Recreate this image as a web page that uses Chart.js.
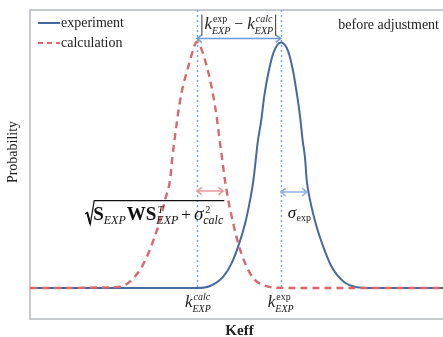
<!DOCTYPE html>
<html><head><meta charset="utf-8">
<script src="https://cdn.jsdelivr.net/npm/chart.js@4.4.1/dist/chart.umd.min.js"></script>
<style>html,body{margin:0;padding:0;background:#fff;overflow:hidden}</style>
</head><body>
<canvas id="c" width="443" height="337"></canvas>
<script>
// ---- data (Keff in arbitrary units 0..100, probability normalised) ----
const seriesNames = ['experiment', 'calculation'];
const expX  = [0, 29.1, 40.4, 43.6, 46.8, 48.8, 50.4, 52.1, 53.3, 54.1, 54.7, 55.1, 56.0, 56.7, 57.7, 58.9, 60.7, 62.5, 63.8, 64.6, 65.4, 66.0, 66.6, 67.0, 67.8, 69.4, 71.0, 73.0, 75.9, 79.1, 82.3, 100];
const expY  = [0, 0, 0, 0.008, 0.046, 0.100, 0.168, 0.263, 0.358, 0.439, 0.527, 0.588, 0.683, 0.778, 0.873, 0.954, 0.998, 0.963, 0.873, 0.791, 0.696, 0.602, 0.527, 0.439, 0.358, 0.249, 0.168, 0.087, 0.026, 0.003, 0, 0];
const calcX = [0, 9.7, 15.7, 21.8, 24.2, 26.6, 28.3, 29.9, 31.5, 32.7, 33.9, 34.5, 35.7, 36.3, 37.1, 38.1, 38.9, 40.4, 41.6, 42.6, 43.6, 44.4, 45.2, 45.8, 46.4, 47.2, 48.0, 49.2, 50.4, 52.1, 54.1, 56.5, 59.7, 65.4, 100];
const calcY = [0, 0, 0.002, 0.005, 0.026, 0.073, 0.127, 0.195, 0.276, 0.358, 0.439, 0.534, 0.691, 0.757, 0.825, 0.886, 0.935, 1.0, 0.967, 0.913, 0.846, 0.778, 0.696, 0.615, 0.541, 0.439, 0.358, 0.263, 0.182, 0.100, 0.039, 0.012, 0.001, 0, 0];
const calcMean = 40.4, expMean = 60.7;
const calcSigma = 6.4, expSigma = 6.4;
const xLabel = 'Keff', yLabel = 'Probability', noteText = 'before adjustment';

const SERIF = '"Liberation Serif","Times New Roman",serif';
const F = (size, style) => (style ? style + ' ' : '') + size + 'px ' + SERIF;
const BLUE = '#46699e', RED = '#d8686c', LBLUE = '#7aa6dc', LRED = '#e69a9b';

function runsWidth(ctx, runs) {
  let w = 0;
  for (const r of runs) {
    if (r.stack) {
      ctx.font = r.supFont; const a = ctx.measureText(r.sup).width + (r.supDx || 0);
      ctx.font = r.subFont; const b = ctx.measureText(r.sub).width;
      w += Math.max(a, b) + (r.gap || 0);
    } else { ctx.font = r.font; w += ctx.measureText(r.t).width + (r.gap || 0); }
  }
  return w;
}
function drawRuns(ctx, x, y, runs) {
  ctx.textAlign = 'left'; ctx.textBaseline = 'alphabetic';
  for (const r of runs) {
    if (r.stack) {
      ctx.font = r.supFont; const a = ctx.measureText(r.sup).width + (r.supDx || 0);
      ctx.fillText(r.sup, x + (r.supDx || 0), y + r.supDy);
      ctx.font = r.subFont; const b = ctx.measureText(r.sub).width;
      ctx.fillText(r.sub, x, y + r.subDy);
      x += Math.max(a, b) + (r.gap || 0);
    } else { ctx.font = r.font; ctx.fillText(r.t, x, y + (r.dy || 0)); x += ctx.measureText(r.t).width + (r.gap || 0); }
  }
  return x;
}
function dblArrow(ctx, x1, x2, y, color, lw, h) {
  ctx.save(); ctx.setLineDash([]); ctx.strokeStyle = color; ctx.lineWidth = lw;
  ctx.beginPath(); ctx.moveTo(x1, y); ctx.lineTo(x2, y);
  ctx.moveTo(x1 + h, y - h * 0.75); ctx.lineTo(x1, y); ctx.lineTo(x1 + h, y + h * 0.75);
  ctx.moveTo(x2 - h, y - h * 0.75); ctx.lineTo(x2, y); ctx.lineTo(x2 - h, y + h * 0.75);
  ctx.stroke(); ctx.restore();
}
const kLabel = (sup, supItalic) => [
  { t: 'k', font: F(17, 'italic'), gap: 0 },
  { stack: true, sup: sup, supFont: F(10, supItalic ? 'italic' : ''), sub: 'EXP', subFont: F(10, 'italic'), supDy: -7, subDy: 5, supDx: 1 }
];

const deco = {
  id: 'deco',
  beforeDraw(chart) {
    const ctx = chart.ctx; ctx.save(); ctx.fillStyle = '#fff'; ctx.fillRect(0, 0, chart.width, chart.height); ctx.restore();
  },
  beforeDatasetsDraw(chart) {
    const { ctx, chartArea: a, scales: { x, y } } = chart;
    ctx.save();
    // frame
    ctx.strokeStyle = '#b5b9bf'; ctx.lineWidth = 1.5;
    ctx.beginPath(); ctx.moveTo(a.right + 5, a.top); ctx.lineTo(a.left, a.top); ctx.lineTo(a.left, a.bottom); ctx.lineTo(a.right + 5, a.bottom); ctx.stroke();
    // dotted mean lines
    ctx.strokeStyle = LBLUE; ctx.lineWidth = 1.5; ctx.setLineDash([2, 3]);
    for (const m of [calcMean, expMean]) {
      const px = Math.round(x.getPixelForValue(m)) + 0.5;
      ctx.beginPath(); ctx.moveTo(px, a.top); ctx.lineTo(px, y.getPixelForValue(0)); ctx.stroke();
    }
    ctx.restore();
  },
  afterDatasetsDraw(chart) {
    const { ctx, chartArea: a, scales: { x, y } } = chart;
    const cP = x.getPixelForValue(calcMean), eP = x.getPixelForValue(expMean);
    ctx.save();
    ctx.fillStyle = '#222';
    // legend
    const lx = a.left + 8, ly1 = a.top + 13, ly2 = a.top + 33;
    ctx.strokeStyle = BLUE; ctx.lineWidth = 2; ctx.setLineDash([]);
    ctx.beginPath(); ctx.moveTo(lx, ly1); ctx.lineTo(lx + 22, ly1); ctx.stroke();
    ctx.strokeStyle = RED; ctx.lineWidth = 2; ctx.setLineDash([5, 4]);
    ctx.beginPath(); ctx.moveTo(lx, ly2); ctx.lineTo(lx + 22, ly2); ctx.stroke();
    ctx.setLineDash([]);
    ctx.font = F(14); ctx.textBaseline = 'middle'; ctx.textAlign = 'left';
    ctx.fillText(seriesNames[0], lx + 23, ly1);
    ctx.fillText(seriesNames[1], lx + 23, ly2);
    // note
    ctx.textAlign = 'right'; ctx.fillText(noteText, a.right - 4, a.top + 15);

    // top arrow + |k - k| label
    const topY = y.getPixelForValue(1.014);
    dblArrow(ctx, cP, eP, topY, '#6c9ad6', 1.5, 5);
    const topRuns = [
      ...kLabel('exp', false).map((r, i) => i === 1 ? Object.assign({}, r, { gap: 4 }) : r),
      { t: '\u2212', font: F(16), gap: 4 },
      ...kLabel('calc', true)
    ];
    const tw = runsWidth(ctx, topRuns);
    const tx = (cP + eP) / 2 - tw / 2;
    ctx.fillStyle = '#222';
    drawRuns(ctx, tx, topY - 10, topRuns);
    ctx.strokeStyle = '#333'; ctx.lineWidth = 1;
    ctx.beginPath();
    ctx.moveTo(tx - 2.5, topY - 24); ctx.lineTo(tx - 2.5, topY - 3);
    ctx.moveTo(tx + tw + 2.5, topY - 24); ctx.lineTo(tx + tw + 2.5, topY - 3);
    ctx.stroke();

    // sigma arrows
    const sY = y.getPixelForValue(0.394);
    const cEnd = x.getPixelForValue(calcMean + calcSigma), eEnd = x.getPixelForValue(expMean + expSigma);
    dblArrow(ctx, cP, cEnd, sY, LRED, 1.5, 5);
    dblArrow(ctx, eP, eEnd, sY + 1, '#8ab2e2', 1.5, 5);

    // sqrt formula
    const sq = [
      { t: 'S', font: F(19, 'bold'), gap: 0 },
      { t: 'EXP', font: F(12, 'italic'), dy: 4, gap: 1 },
      { t: 'WS', font: F(19, 'bold') },
      { stack: true, sup: 'T', supFont: F(10, 'italic'), sub: 'EXP', subFont: F(12, 'italic'), supDy: -7.5, subDy: 4, supDx: 1.5, gap: 3 },
      { t: '+', font: F(17), gap: 3 },
      { t: '\u03C3', font: F(19, 'italic') },
      { stack: true, sup: '2', supFont: F(10), sub: 'calc', subFont: F(12, 'italic'), supDy: -7.5, subDy: 4, supDx: 2 }
    ];
    const sw = runsWidth(ctx, sq);
    const sEnd = cEnd;
    const sx = sEnd - sw;
    const base = sY + 29;
    ctx.fillStyle = '#111';
    drawRuns(ctx, sx, base, sq);
    ctx.strokeStyle = '#111'; ctx.lineWidth = 1.2;
    ctx.beginPath();
    ctx.moveTo(sx - 8, base - 6); ctx.lineTo(sx - 6, base - 7.5);
    ctx.lineTo(sx - 3, base + 4); ctx.lineTo(sx + 1, base - 19.5); ctx.lineTo(sEnd + 1, base - 19.5);
    ctx.stroke();
    ctx.lineWidth = 2;
    ctx.beginPath(); ctx.moveTo(sx - 6, base - 7.5); ctx.lineTo(sx - 3, base + 4); ctx.stroke();

    // sigma_exp label
    drawRuns(ctx, eP + 7, sY + 27, [
      { t: '\u03C3', font: F(17, 'italic'), gap: 0.5 },
      { t: 'exp', font: F(10), dy: 3 }
    ]);

    // tick labels
    ctx.fillStyle = '#222';
    const tkY = a.bottom - 12;
    const r1 = kLabel('calc', true), r2 = kLabel('exp', false);
    drawRuns(ctx, cP - runsWidth(ctx, r1) / 2 + 1, tkY, r1);
    drawRuns(ctx, eP - runsWidth(ctx, r2) / 2, tkY, r2);

    // axis titles
    ctx.font = F(15, 'bold'); ctx.textAlign = 'center'; ctx.textBaseline = 'alphabetic';
    ctx.fillText(xLabel, (a.left + a.right) / 2 + 3, 335);
    ctx.save(); ctx.translate(13, 152); ctx.rotate(-Math.PI / 2);
    ctx.font = F(14); ctx.textBaseline = 'middle'; ctx.fillText(yLabel, 0, 0);
    ctx.restore();
    ctx.restore();
  }
};

new Chart(document.getElementById('c'), {
  type: 'line',
  data: {
    datasets: [
      { label: seriesNames[1], data: calcX.map((v, i) => ({ x: v, y: calcY[i] })), borderColor: RED, borderWidth: 2.4, borderDash: [7, 5], pointRadius: 0, cubicInterpolationMode: 'monotone', fill: false },
      { label: seriesNames[0], data: expX.map((v, i) => ({ x: v, y: expY[i] })), borderColor: BLUE, borderWidth: 2, pointRadius: 0, cubicInterpolationMode: 'monotone', fill: false }
    ]
  },
  options: {
    responsive: false, animation: false, devicePixelRatio: 1,
    layout: { padding: { left: 30, top: 10, right: 0, bottom: 18 } },
    scales: {
      x: { type: 'linear', min: 0, max: 100, display: false },
      y: { min: -0.126, max: 1.13, display: false }
    },
    plugins: { legend: { display: false }, tooltip: { enabled: false } }
  },
  plugins: [deco]
});
</script>
</body></html>
